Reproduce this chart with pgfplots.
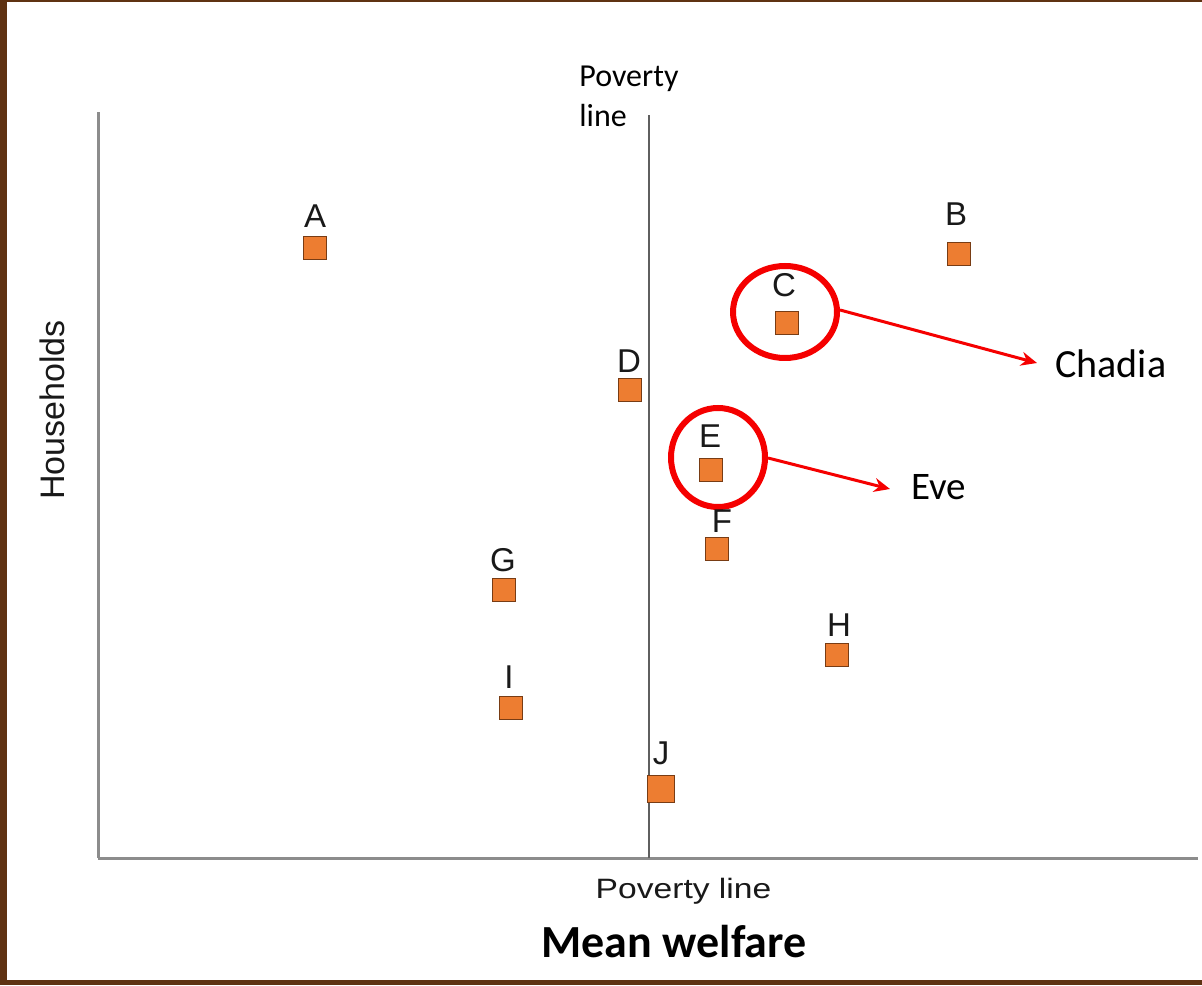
\documentclass[border=0pt]{standalone}
\usepackage{pgfplots}
\pgfplotsset{compat=1.18}
\usepackage{fontspec}
\setmainfont{Liberation Sans}
\newfontfamily\calibri{Carlito}
\usetikzlibrary{arrows.meta,backgrounds}
\definecolor{ptfill}{RGB}{237,125,49}
\definecolor{ptdraw}{RGB}{120,60,20}
\definecolor{axgray}{RGB}{140,140,140}
\definecolor{plgray}{RGB}{95,95,95}
\definecolor{txt}{RGB}{25,25,25}
\definecolor{bgbrown}{RGB}{95,50,18}
\definecolor{annred}{RGB}{245,0,0}
\pgfplotstableread{
x y label
315 737 A
959 731 B
787 662 C
630 595 D
711 515 E
717 436 F
504 395 G
837 330 H
511 277 I
}\points
\pgfplotstableread{
x y label
661 196 J
}\pointJ
\pgfplotstableread{
x y label
315 757 A
956 759 B
784 688 C
629 612 D
710 537 E
722 452 F
503 413 G
839 349 H
509 297 I
661 221 J
}\labels
\begin{document}
\begin{tikzpicture}
\begin{axis}[
  scale only axis, width=550pt, height=373pt,
  xmin=98, xmax=1198, ymin=127, ymax=873,
  axis x line=bottom, axis y line=left,
  axis line style={-, draw=axgray, line width=1.5pt},
  ticks=none, clip=false,
]
\coordinate (bl) at (axis cs:0,0);
\coordinate (tr) at (axis cs:1202,985);
\coordinate (wbl) at (axis cs:7,5);
\coordinate (wtr) at (axis cs:1202,983);
% poverty line
\addplot[plgray, line width=1pt] coordinates {(649,127) (649,870)};
% points
\addplot[only marks, mark=square*, mark size=5.75pt,
  mark options={fill=ptfill, draw=ptdraw, line width=0.5pt}]
  table[x=x, y=y] {\points};
\addplot[only marks, mark=square*, mark size=6.75pt,
  mark options={fill=ptfill, draw=ptdraw, line width=0.6pt}]
  table[x=x, y=y] {\pointJ};
% labels
\addplot[only marks, mark=none, nodes near coords, point meta=explicit symbolic,
  every node near coord/.style={anchor=base, inner sep=0pt, text=txt,
    font=\fontsize{16.5}{20}\selectfont}]
  table[x=x, y=y, meta=label] {\labels};
% annotations
\draw[annred, line width=3pt] (axis cs:785,673) ellipse [x radius=26pt, y radius=23pt];
\draw[annred, line width=3pt] (axis cs:718,527.5) ellipse [x radius=23.5pt, y radius=24.75pt];
\draw[annred, line width=1.5pt, -{Stealth[length=8pt,width=7pt]}] (axis cs:840,675) -- (axis cs:1037,622);
\draw[annred, line width=1.5pt, -{Stealth[length=8pt,width=7pt]}] (axis cs:768,527) -- (axis cs:890,496);
\node[anchor=base west, inner sep=0pt, font=\calibri\fontsize{20}{24}\selectfont] at (axis cs:1055,607) {Chadia};
\node[anchor=base west, inner sep=0pt, font=\calibri\fontsize{19.5}{23}\selectfont] at (axis cs:911,485) {Eve};
% texts
\node[anchor=base west, inner sep=0pt, font=\calibri\fontsize{16}{20}\selectfont] at (axis cs:579,898) {Poverty};
\node[anchor=base west, inner sep=0pt, font=\calibri\fontsize{16}{20}\selectfont] at (axis cs:579,858) {line};
\node[anchor=base, inner sep=0pt, text=txt, font=\fontsize{14}{17}\selectfont] at (axis cs:683.5,87) {\scalebox{1.2}[1]{Poverty line}};
\node[anchor=base, inner sep=0pt, font=\calibri\bfseries\fontsize{23}{27}\selectfont] at (axis cs:674,28) {Mean welfare};
\node[anchor=base, rotate=90, inner sep=0pt, text=txt, font=\fontsize{17}{20}\selectfont] at (axis cs:65,575) {Households};
\end{axis}
\begin{scope}[on background layer]
\fill[bgbrown] (bl) rectangle (tr);
\fill[white] (wbl) rectangle (wtr);
\end{scope}
\end{tikzpicture}
\end{document}
